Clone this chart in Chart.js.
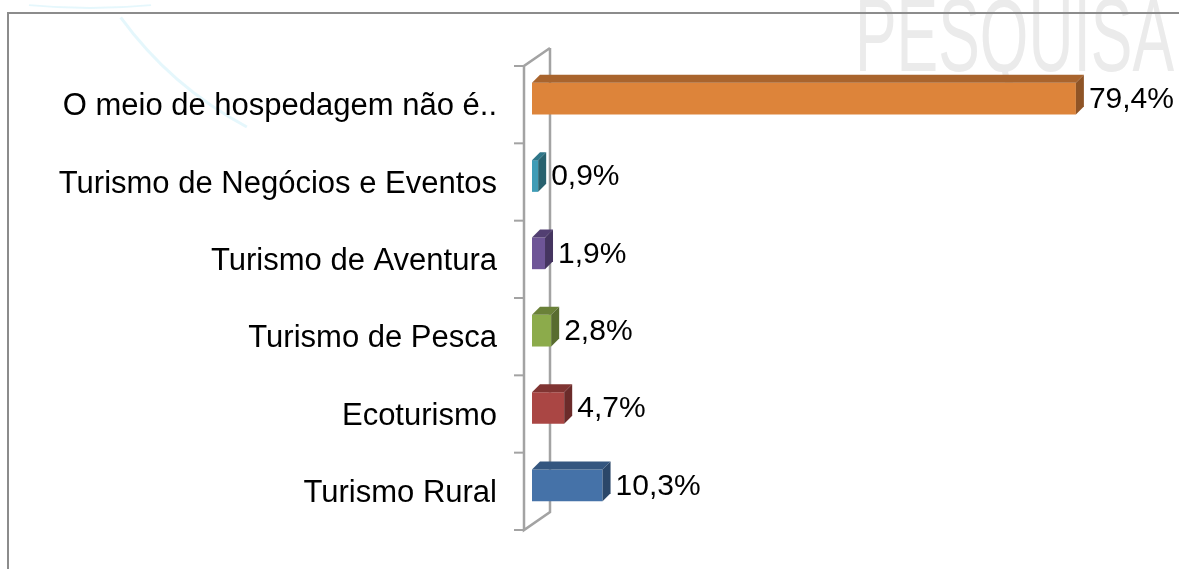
<!DOCTYPE html>
<html>
<head>
<meta charset="utf-8">
<script src="https://cdn.jsdelivr.net/npm/chart.js@4.4.1/dist/chart.umd.min.js"></script>
<style>
  html, body { margin: 0; padding: 0; background: #fff; }
  canvas { display: block; }
</style>
</head>
<body>
<canvas id="chart" width="1179" height="569"></canvas>
<script>
// Categories top to bottom, as in the picture
const categories = [
  'O meio de hospedagem não é..',
  'Turismo de Negócios e Eventos',
  'Turismo de Aventura',
  'Turismo de Pesca',
  'Ecoturismo',
  'Turismo Rural',
];
const values = [79.4, 0.9, 1.9, 2.8, 4.7, 10.3];
const frontColors = ['#dd843a', '#3f9cb6', '#6e5597', '#8cab4b', '#aa4644', '#4572a8'];
const topColors   = ['#a9642d', '#2f7689', '#523f72', '#6a8138', '#803432', '#34567f'];
const sideColors  = ['#8f5426', '#28626f', '#453560', '#586c2f', '#6b2b2a', '#2b4769'];

const FONT = "'Liberation Sans', Arial, sans-serif";
const DX = 8, DY = 8;          // bar depth
const WALL_DX = 26, WALL_DY = 18;
const WALL_SHIFT = 6;          // wall sits a bit lower than bar fronts

const fmt = (v) => v.toFixed(1).replace('.', ',') + '%';

const decor = {
  id: 'decor',
  beforeDraw(chart) {
    const ctx = chart.ctx;
    ctx.save();
    ctx.fillStyle = '#fff';
    ctx.fillRect(0, 0, chart.width, chart.height);

    // faint arcs of the slide background
    ctx.strokeStyle = 'rgba(190, 235, 248, 0.4)';
    ctx.lineWidth = 3;
    ctx.beginPath();
    ctx.arc(420, -200, 370, Math.PI * 0.655, Math.PI * 0.8);
    ctx.stroke();
    ctx.lineWidth = 2;
    ctx.beginPath();
    ctx.arc(90, -640, 648, Math.PI * 0.47, Math.PI * 0.53);
    ctx.stroke();

    // watermark
    ctx.fillStyle = '#ebebeb';
    ctx.font = '104px ' + FONT;
    ctx.textBaseline = 'alphabetic';
    ctx.translate(855, 71);
    ctx.scale(0.6, 1);
    ctx.fillText('PESQUISA', 0, 0);
    ctx.restore();

    // frame
    ctx.save();
    ctx.strokeStyle = '#8c8c8c';
    ctx.lineWidth = 2;
    ctx.beginPath();
    ctx.moveTo(1179, 13);
    ctx.lineTo(8, 13);
    ctx.lineTo(8, 569);
    ctx.stroke();
    ctx.restore();
  },
  beforeDatasetsDraw(chart) {
    // category wall with tick marks
    const ctx = chart.ctx;
    const area = chart.chartArea;
    const fx = area.left - 8;
    const top = area.top + WALL_SHIFT;
    const bot = area.bottom + WALL_SHIFT;
    ctx.save();
    ctx.strokeStyle = '#a3a3a3';
    ctx.lineWidth = 2.5;
    ctx.beginPath();
    ctx.moveTo(fx + WALL_DX, top - WALL_DY);
    ctx.lineTo(fx + WALL_DX, bot - WALL_DY);
    ctx.lineTo(fx, bot);
    ctx.lineTo(fx, top);
    ctx.lineTo(fx + WALL_DX, top - WALL_DY);
    ctx.stroke();
    ctx.lineWidth = 2;
    const band = (area.bottom - area.top) / categories.length;
    for (let i = 0; i <= categories.length; i++) {
      const y = top + band * i;
      ctx.beginPath();
      ctx.moveTo(fx - 10, y);
      ctx.lineTo(fx, y);
      ctx.stroke();
    }
    ctx.restore();
  },
  afterDatasetsDraw(chart) {
    const ctx = chart.ctx;
    const meta = chart.getDatasetMeta(0);
    ctx.save();
    meta.data.forEach((bar, i) => {
      const x0 = bar.base, x1 = bar.x;
      const y0 = bar.y - bar.height / 2, y1 = bar.y + bar.height / 2;
      // top face
      ctx.fillStyle = topColors[i];
      ctx.beginPath();
      ctx.moveTo(x0, y0);
      ctx.lineTo(x0 + DX, y0 - DY);
      ctx.lineTo(x1 + DX, y0 - DY);
      ctx.lineTo(x1, y0);
      ctx.closePath();
      ctx.fill();
      // right face
      ctx.fillStyle = sideColors[i];
      ctx.beginPath();
      ctx.moveTo(x1, y0);
      ctx.lineTo(x1 + DX, y0 - DY);
      ctx.lineTo(x1 + DX, y1 - DY);
      ctx.lineTo(x1, y1);
      ctx.closePath();
      ctx.fill();
      // value label
      ctx.fillStyle = '#000';
      ctx.font = '30px ' + FONT;
      ctx.textAlign = 'left';
      ctx.textBaseline = 'middle';
      ctx.fillText(fmt(values[i]), x1 + DX + 5, bar.y + 1);
    });
    ctx.restore();
  },
};

new Chart(document.getElementById('chart'), {
  type: 'bar',
  data: {
    labels: categories,
    datasets: [{
      data: values,
      backgroundColor: frontColors,
      borderWidth: 0,
      categoryPercentage: 1,
      barPercentage: 0.41,
    }],
  },
  options: {
    indexAxis: 'y',
    responsive: false,
    animation: false,
    events: [],
    layout: { padding: { top: 60, bottom: 45, right: 99, left: 0 } },
    plugins: { legend: { display: false }, tooltip: { enabled: false } },
    scales: {
      x: { display: false, min: 0, max: 80 },
      y: {
        afterFit: (scale) => {
          scale.width = 532;
          scale.paddingTop = 0;
          scale.paddingBottom = 0;
        },
        border: { display: false },
        grid: { display: false, drawTicks: false },
        ticks: {
          color: '#000',
          padding: 35,
          labelOffset: WALL_SHIFT + 2,
          font: { family: FONT, size: 31 },
        },
      },
    },
  },
  plugins: [decor],
});
</script>
</body>
</html>
